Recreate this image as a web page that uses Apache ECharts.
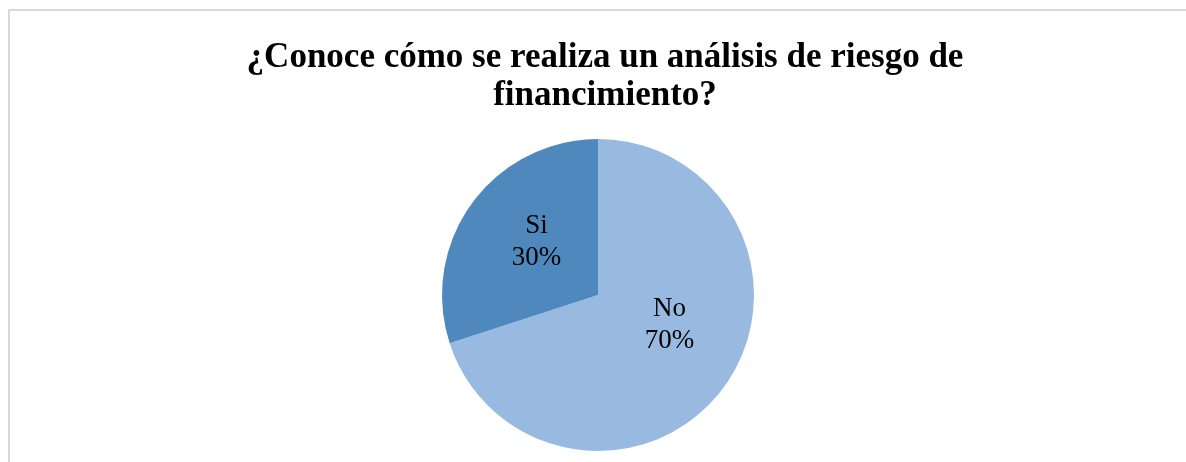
<!DOCTYPE html>
<html>
<head>
<meta charset="utf-8">
<script src="https://cdn.jsdelivr.net/npm/echarts@6/dist/echarts.min.js"></script>
<style>html,body{margin:0;padding:0;background:#fff}#c{width:1186px;height:462px}</style>
</head>
<body>
<div id="c"></div>
<script>
const titleText = '¿Conoce cómo se realiza un análisis de riesgo de\nfinancimiento?';
const categories = ['No', 'Si'];
const values = [70, 30];
const colors = ['#98B9E0', '#4F88BC'];
const labelOffsets = [[6, -18], [4, -5]];

const chart = echarts.init(document.getElementById('c'), null, {renderer: 'canvas'});
chart.setOption({
  animation: false,
  backgroundColor: '#fff',
  graphic: [{
    type: 'rect', silent: true, z: -1,
    shape: {x: 9, y: 10, width: 1300, height: 600},
    style: {fill: 'none', stroke: '#d9d9d9', lineWidth: 2}
  }],
  title: {
    text: titleText,
    left: 600, top: 34, textAlign: 'center',
    textStyle: {fontFamily: 'Liberation Serif', fontWeight: 'bold', fontSize: 35, lineHeight: 38, color: '#000'}
  },
  series: [{
    type: 'pie',
    center: [598, 295],
    radius: [0, 156],
    startAngle: 90,
    clockwise: true,
    label: {
      position: 'inside',
      fontFamily: 'Liberation Serif', fontSize: 27, lineHeight: 32, color: '#000',
      formatter: p => p.name + '\n' + p.value + '%'
    },
    labelLine: {show: false},
    emphasis: {disabled: true},
    data: categories.map((c, i) => ({
      name: c, value: values[i],
      itemStyle: {color: colors[i]},
      label: {offset: labelOffsets[i]}
    }))
  }]
});
</script>
</body>
</html>
